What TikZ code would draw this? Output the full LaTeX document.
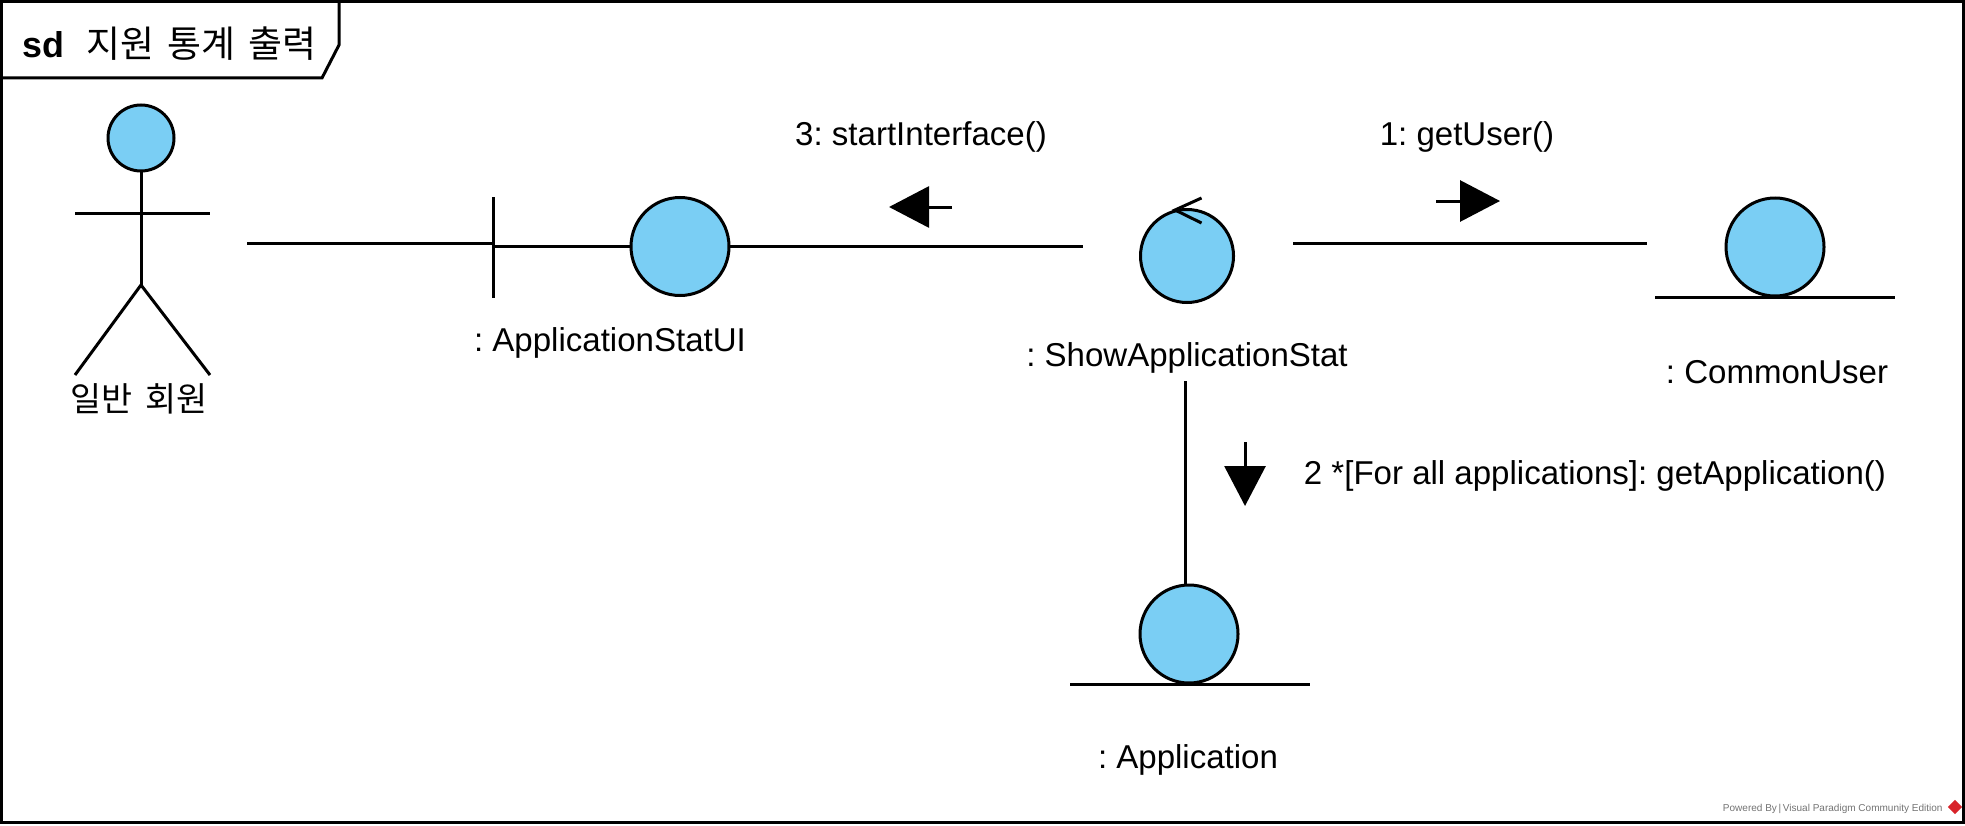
\documentclass[tikz,border=0pt]{standalone}
\usepackage{fontspec}
\setmainfont{Liberation Sans}
\newfontfamily\krfont{Noto Sans CJK KR}[WordSpace=1.6]
\usetikzlibrary{arrows.meta, positioning}
\definecolor{mBlue}{HTML}{7ACEF4}
\definecolor{mRed}{HTML}{D8232A}
\frenchspacing

\begin{document}
\begin{tikzpicture}[x=0.1mm, y=-0.1mm, line width=0.3mm, line cap=butt,
      obj/.style={draw, circle, fill=mBlue, inner sep=0pt, outer sep=0pt, minimum size=9.8mm},
      lab/.style={inner sep=0pt, font=\fontsize{9.4pt}{11pt}\selectfont},
      msg/.style={-{Triangle[length=4mm, width=4.1mm]}}]
    \useasboundingbox (0,0) rectangle (1965,825);
    % frame and its tab
    \draw (1.5,1.5) rectangle (1963,822.5);
    \draw (339,1.5) -- (339,45) -- (322,78) -- (1.5,78);
    \node[lab, anchor=west] (sdKey) at (21,45) {\fontsize{10.2pt}{11pt}\selectfont\bfseries sd};
    \node[lab, anchor=west] (sdName) at (85,44) {\fontsize{10.5pt}{11pt}\selectfont\krfont 지원 통계 출력};

    % actor
    \node[obj, minimum size=6.6mm] (head) at (141,138) {};
    \coordinate (hip) at (141,285);
    \coordinate (armL) at (75,213);
    \coordinate (armR) at (210,213);
    \coordinate (legL) at (75,375);
    \coordinate (legR) at (210,375);
    \draw (head.south) -- (hip);
    \draw (armL) -- (armR);
    \draw (legL) -- (hip) -- (legR);
    \node[lab] (actorLab) at (139,399) {\fontsize{9.6pt}{11pt}\selectfont\krfont 일반 회원};

    % objects
    \node[obj] (uiObj) at (680,246.5) {};
    \coordinate (uiBarT) at (493,197);
    \coordinate (uiBarB) at (493,298);
    \coordinate (uiBarM) at (493,246.5);
    \draw (uiBarT) -- (uiBarB);
    \draw (uiBarM) -- (uiObj.west);
    \node[lab] (uiLab) at (610,343) {: ApplicationStatUI};

    \node[obj, minimum size=9.3mm] (ctlObj) at (1187,256) {};
    \coordinate (ctlTip) at (1175,210);
    \coordinate (ctlA) at (1201.5,198);
    \coordinate (ctlB) at (1201.5,223);
    \draw (ctlA) -- (ctlTip) -- (ctlB);
    \node[lab] (ctlLab) at (1187,358) {: ShowApplicationStat};

    \node[obj] (userObj) at (1775,247) {};
    \coordinate (userL) at (1655,297);
    \coordinate (userR) at (1895,297);
    \draw (userL) -- (userR);
    \node[lab] (userLab) at (1777,372) {: CommonUser};

    \node[obj] (appObj) at (1189,634) {};
    \coordinate (appL) at (1070,684);
    \coordinate (appR) at (1310,684);
    \draw (appL) -- (appR);
    \node[lab] (appLab) at (1188,760) {: Application};

    % links
    \coordinate (actorEnd) at (247,243);
    \coordinate (actorBar) at (493,243);
    \coordinate (ctlWest) at (1083,246.5);
    \coordinate (ctlEast) at (1293,243);
    \coordinate (userWest) at (1647,243);
    \coordinate (ctlSouth) at (1185,381);
    \coordinate (appNorth) at (1185,585);
    \draw (actorEnd) -- (actorBar);
    \draw (uiObj.east) -- (ctlWest);
    \draw (ctlEast) -- (userWest);
    \draw (ctlSouth) -- (appNorth);

    % messages
    \coordinate (m3a) at (952,207);
    \coordinate (m3b) at (889,207);
    \coordinate (m1a) at (1436,201);
    \coordinate (m1b) at (1500,201);
    \coordinate (m2a) at (1245,442);
    \coordinate (m2b) at (1245,506);
    \foreach \a/\b in {m3a/m3b, m1a/m1b, m2a/m2b} {
      \draw[msg] (\a) -- (\b);
    }
    \node[lab] (m3Lab) at (921,137) {3: startInterface()};
    \node[lab] (m1Lab) at (1467,137) {1: getUser()};
    \node[lab] (m2Lab) at (1595,476) {2 *[For all applications]: getApplication()};

    % watermark
    \node[inner sep=0pt, anchor=east, text=black!55, font=\fontsize{2.85pt}{3pt}\selectfont] (vpLab) at (1944,809) {Powered By\,|\,Visual Paradigm Community Edition};
    \node[fill=mRed, rotate=45, inner sep=0pt, minimum size=1mm] (vpLogo) at (1955,807) {};
\end{tikzpicture}
\end{document}
